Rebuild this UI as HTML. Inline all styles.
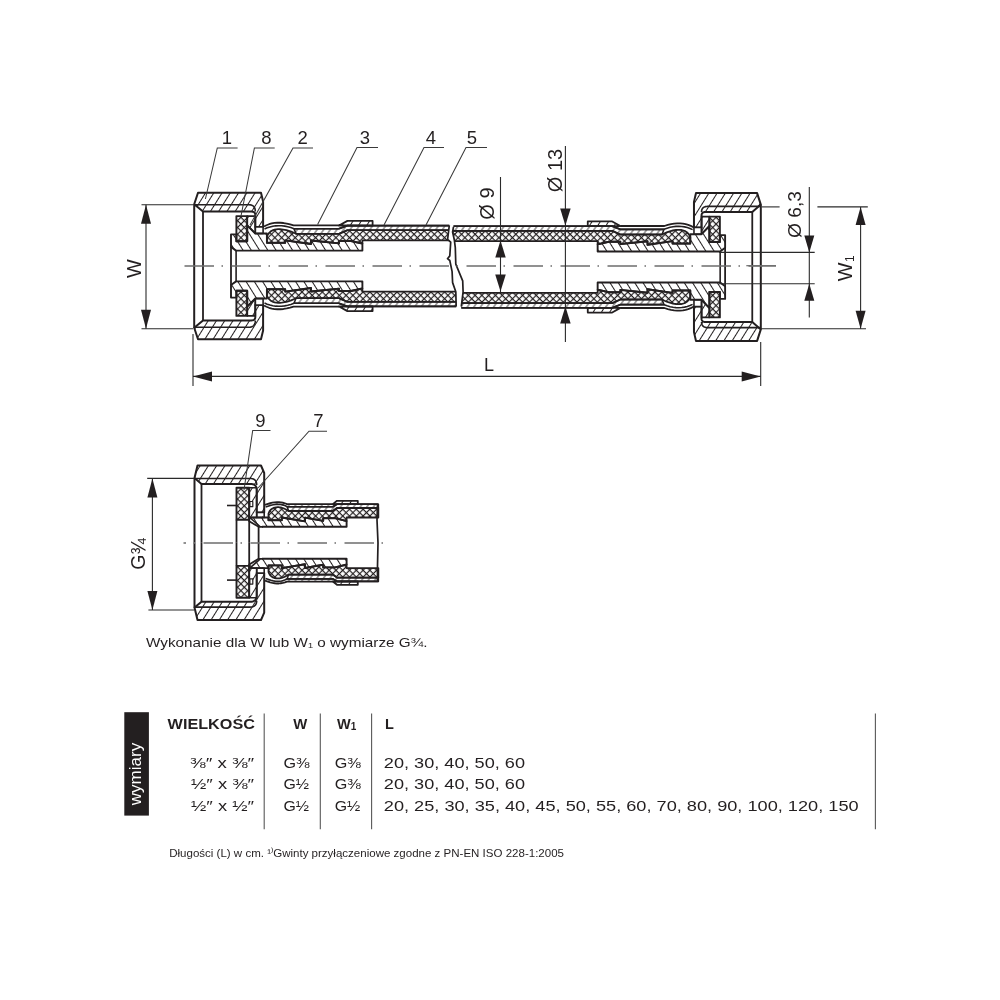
<!DOCTYPE html>
<html><head><meta charset="utf-8"><style>
html,body{margin:0;padding:0;background:#fff;width:1000px;height:1000px;overflow:hidden}
svg{position:absolute;left:0;top:0;font-family:"Liberation Sans",sans-serif;will-change:transform}
</style></head><body>
<svg width="1000" height="1000" viewBox="0 0 1000 1000">
<defs>
<pattern id="hA" patternUnits="userSpaceOnUse" width="7" height="20" patternTransform="rotate(32)"><line x1="3.5" y1="-1" x2="3.5" y2="21" stroke="#231f20" stroke-width="1.05"/></pattern>
<pattern id="hB" patternUnits="userSpaceOnUse" width="7" height="20" patternTransform="rotate(-32)"><line x1="3.5" y1="-1" x2="3.5" y2="21" stroke="#231f20" stroke-width="1.05"/></pattern>
<pattern id="hD" patternUnits="userSpaceOnUse" width="5.4" height="20" patternTransform="rotate(35)"><line x1="2.7" y1="-1" x2="2.7" y2="21" stroke="#231f20" stroke-width="0.85"/></pattern>
<pattern id="hX" patternUnits="userSpaceOnUse" width="4.8" height="4.8" patternTransform="rotate(45)"><path d="M0 2.4H4.8 M2.4 0V4.8" stroke="#231f20" stroke-width="1.2" fill="none"/></pattern>
</defs>
<clipPath id="clL"><path d="M100 200 L449.3 200 L449.3 225.5 L447.6 239.3 L450.7 242.1 L449.8 255.9 L447.5 258.7 L449.8 260.5 L452.1 271.6 L452.6 282.6 L455.8 291.8 L456.2 306.6 L456.2 330 L100 330Z"/></clipPath>
<clipPath id="clR"><path d="M900 200 L453.5 200 L453.5 226.9 L452.6 232 L454.4 240.3 L455.3 247.6 L455.8 264.2 L462.7 280.8 L463.1 291.8 L461.3 306.6 L461.3 330 L900 330Z"/></clipPath>
<path d="M198 192.8 L261 192.8 L263.1 201.5 L263.1 226.9 L255.3 226.9 L255.3 215 L255.26 214.35 L255.15 213.78 L254.96 213.27 L254.69 212.82 L254.35 212.45 L253.93 212.14 L253.44 211.91 L252.87 211.74 L252.22 211.63 L251.5 211.6 L203 211.6 L194.2 204.2Z" fill="url(#hA)" stroke="#231f20" stroke-width="2" stroke-linejoin="round"/>
<path d="M194.2 204.8 L249 204.8 L250.2 204.87 L251.27 205.07 L252.21 205.4 L253.03 205.87 L253.73 206.48 L254.29 207.21 L254.73 208.08 L255.05 209.09 L255.24 210.23 L255.3 211.5" fill="none" stroke="#231f20" stroke-width="1.6" stroke-linejoin="round"/>
<path d="M255.3 226.9 L263.1 226.9 L263.1 233.5 L255.3 233.5Z" fill="white" stroke="#231f20" stroke-width="1.6" stroke-linejoin="round"/>
<path d="M247.2 216.1 L255.3 216.1 L255.3 233.3 L247.2 225.4Z" fill="url(#hA)" stroke="#231f20" stroke-width="1.6" stroke-linejoin="round"/>
<path d="M236.4 216.1 L247.2 216.1 L247.2 241.3 L236.4 241.3Z" fill="url(#hX)" stroke="#231f20" stroke-width="1.9" stroke-linejoin="round"/>
<path d="M262 250.6 L236.1 250.6 L231 247 L231 234.4 L236.4 234.4 L236.4 241.3 L247.2 241.3 L247.2 225.4 L255.3 233.5 L262 233.5Z" fill="url(#hB)" stroke="none"/>
<path d="M262 250.6 L236.1 250.6 L231 247 L231 234.4 L236.4 234.4 L236.4 241.3 L247.2 241.3 L247.2 225.4 L255.3 233.5 L262 233.5" fill="none" stroke="#231f20" stroke-width="1.9" stroke-linejoin="round"/>
<path d="M231 247 L231 266" fill="none" stroke="#231f20" stroke-width="1.8" stroke-linejoin="round"/>
<path d="M236.1 250.6 L236.1 266" fill="none" stroke="#231f20" stroke-width="1.6" stroke-linejoin="round"/>
<path d="M194.2 204.2 L194.2 266" fill="none" stroke="#231f20" stroke-width="2" stroke-linejoin="round"/>
<path d="M203 211.6 L203 266" fill="none" stroke="#231f20" stroke-width="1.8" stroke-linejoin="round"/>
<path d="M198 339.2 L261 339.2 L263.1 330.5 L263.1 305.1 L255.3 305.1 L255.3 317 L255.26 317.65 L255.15 318.22 L254.96 318.73 L254.69 319.18 L254.35 319.55 L253.93 319.86 L253.44 320.09 L252.87 320.26 L252.22 320.37 L251.5 320.4 L203 320.4 L194.2 327.8Z" fill="url(#hA)" stroke="#231f20" stroke-width="2" stroke-linejoin="round"/>
<path d="M194.2 327.2 L249 327.2 L250.2 327.13 L251.27 326.93 L252.21 326.6 L253.03 326.13 L253.73 325.52 L254.29 324.79 L254.73 323.92 L255.05 322.91 L255.24 321.77 L255.3 320.5" fill="none" stroke="#231f20" stroke-width="1.6" stroke-linejoin="round"/>
<path d="M255.3 305.1 L263.1 305.1 L263.1 298.5 L255.3 298.5Z" fill="white" stroke="#231f20" stroke-width="1.6" stroke-linejoin="round"/>
<path d="M247.2 315.9 L255.3 315.9 L255.3 298.7 L247.2 306.6Z" fill="url(#hA)" stroke="#231f20" stroke-width="1.6" stroke-linejoin="round"/>
<path d="M236.4 315.9 L247.2 315.9 L247.2 290.7 L236.4 290.7Z" fill="url(#hX)" stroke="#231f20" stroke-width="1.9" stroke-linejoin="round"/>
<path d="M262 281.4 L236.1 281.4 L231 285 L231 297.6 L236.4 297.6 L236.4 290.7 L247.2 290.7 L247.2 306.6 L255.3 298.5 L262 298.5Z" fill="url(#hB)" stroke="none"/>
<path d="M262 281.4 L236.1 281.4 L231 285 L231 297.6 L236.4 297.6 L236.4 290.7 L247.2 290.7 L247.2 306.6 L255.3 298.5 L262 298.5" fill="none" stroke="#231f20" stroke-width="1.9" stroke-linejoin="round"/>
<path d="M231 285 L231 266" fill="none" stroke="#231f20" stroke-width="1.8" stroke-linejoin="round"/>
<path d="M236.1 281.4 L236.1 266" fill="none" stroke="#231f20" stroke-width="1.6" stroke-linejoin="round"/>
<path d="M194.2 327.8 L194.2 266" fill="none" stroke="#231f20" stroke-width="2" stroke-linejoin="round"/>
<path d="M203 320.4 L203 266" fill="none" stroke="#231f20" stroke-width="1.8" stroke-linejoin="round"/>
<g clip-path="url(#clL)">
<path d="M262 233.5 L266.9 233.5 L266.9 242.8 L285.2 242.8 L285.2 240.4 L311 244 L311 240.5 L339 243.4 L339 241 L351 241 L362.4 243.6 L362.4 250.6 L262 250.6Z" fill="url(#hB)" stroke="none"/>
<path d="M262 233.5 L266.9 233.5 L266.9 242.8 L285.2 242.8 L285.2 240.4 L311 244 L311 240.5 L339 243.4 L339 241 L351 241 L362.4 243.6 L362.4 250.6 L262 250.6" fill="none" stroke="#231f20" stroke-width="1.9" stroke-linejoin="round"/>
<path d="M266.9 242.8 L266.9 236.5 L267.59 235.02 L268.42 233.71 L269.38 232.57 L270.48 231.59 L271.73 230.77 L273.1 230.13 L274.62 229.65 L276.28 229.33 L278.07 229.18 L280 229.2 L281.6 229.35 L283.2 229.58 L284.8 229.87 L286.4 230.22 L288 230.65 L289.6 231.14 L291.2 231.71 L292.8 232.34 L294.4 233.03 L296 233.8 L339 233.8 L347.4 230.2 L470 230.2 L470 240.4 L362.4 240.4 L362.4 243.6 L351 241 L339 241 L339 243.4 L311 240.5 L311 244 L285.2 240.4 L285.2 242.8Z" fill="url(#hX)" stroke="#231f20" stroke-width="1.8" stroke-linejoin="round"/>
<path d="M296 233.8 L339 233.8 L347.4 230.2 L470 230.2 L470 225.6 L347.4 225.6 L339 228.7 L294 228.7Z" fill="url(#hD)" stroke="#231f20" stroke-width="1.6" stroke-linejoin="round"/>
<path d="M264 226.5 L266.46 225.23 L269.02 224.22 L271.7 223.46 L274.5 222.96 L277.4 222.72 L280.42 222.74 L283.54 223.02 L286.78 223.56 L290.14 224.35 L293.6 225.4 L339 225.4" fill="none" stroke="#231f20" stroke-width="1.8" stroke-linejoin="round"/>
<path d="M264.5 229 L267.23 227.83 L270 226.91 L272.82 226.24 L275.7 225.83 L278.62 225.68 L281.6 225.77 L284.62 226.12 L287.7 226.73 L290.82 227.59 L294 228.7 L339 228.7" fill="none" stroke="#231f20" stroke-width="1.6" stroke-linejoin="round"/>
<path d="M339 225.5 L347.4 220.9 L372.6 220.9 L372.6 225.6Z" fill="url(#hA)" stroke="#231f20" stroke-width="1.8" stroke-linejoin="round"/>
<path d="M339 228.7 L347.4 225.6 L470 225.6" fill="none" stroke="#231f20" stroke-width="1.8" stroke-linejoin="round"/>
<path d="M262 298.5 L266.9 298.5 L266.9 289.2 L285.2 289.2 L285.2 291.6 L311 288 L311 291.5 L339 288.6 L339 291 L351 291 L362.4 288.4 L362.4 281.4 L262 281.4Z" fill="url(#hB)" stroke="none"/>
<path d="M262 298.5 L266.9 298.5 L266.9 289.2 L285.2 289.2 L285.2 291.6 L311 288 L311 291.5 L339 288.6 L339 291 L351 291 L362.4 288.4 L362.4 281.4 L262 281.4" fill="none" stroke="#231f20" stroke-width="1.9" stroke-linejoin="round"/>
<path d="M266.9 289.2 L266.9 295.5 L267.59 296.98 L268.42 298.29 L269.38 299.43 L270.48 300.41 L271.73 301.23 L273.1 301.87 L274.62 302.35 L276.28 302.67 L278.07 302.82 L280 302.8 L281.6 302.65 L283.2 302.42 L284.8 302.13 L286.4 301.78 L288 301.35 L289.6 300.86 L291.2 300.29 L292.8 299.66 L294.4 298.97 L296 298.2 L339 298.2 L347.4 301.8 L470 301.8 L470 291.6 L362.4 291.6 L362.4 288.4 L351 291 L339 291 L339 288.6 L311 291.5 L311 288 L285.2 291.6 L285.2 289.2Z" fill="url(#hX)" stroke="#231f20" stroke-width="1.8" stroke-linejoin="round"/>
<path d="M296 298.2 L339 298.2 L347.4 301.8 L470 301.8 L470 306.4 L347.4 306.4 L339 303.3 L294 303.3Z" fill="url(#hD)" stroke="#231f20" stroke-width="1.6" stroke-linejoin="round"/>
<path d="M264 305.5 L266.46 306.77 L269.02 307.78 L271.7 308.54 L274.5 309.04 L277.4 309.27 L280.42 309.26 L283.54 308.98 L286.78 308.44 L290.14 307.65 L293.6 306.6 L339 306.6" fill="none" stroke="#231f20" stroke-width="1.8" stroke-linejoin="round"/>
<path d="M264.5 303 L267.23 304.17 L270 305.09 L272.82 305.76 L275.7 306.17 L278.62 306.32 L281.6 306.23 L284.62 305.88 L287.7 305.27 L290.82 304.41 L294 303.3 L339 303.3" fill="none" stroke="#231f20" stroke-width="1.6" stroke-linejoin="round"/>
<path d="M339 306.5 L347.4 311.1 L372.6 311.1 L372.6 306.4Z" fill="url(#hA)" stroke="#231f20" stroke-width="1.8" stroke-linejoin="round"/>
<path d="M339 303.3 L347.4 306.4 L470 306.4" fill="none" stroke="#231f20" stroke-width="1.8" stroke-linejoin="round"/>
</g>
<path d="M757.12 193.07 L696.01 193.07 L693.97 201.86 L693.97 227.51 L701.54 227.51 L701.54 215.49 L701.58 214.84 L701.69 214.25 L701.87 213.74 L702.13 213.29 L702.46 212.91 L702.87 212.61 L703.35 212.37 L703.9 212.19 L704.52 212.09 L705.23 212.06 L752.27 212.06 L760.81 204.58Z" fill="url(#hA)" stroke="#231f20" stroke-width="2" stroke-linejoin="round"/>
<path d="M760.81 206.4 L707.65 206.4 L706.49 206.46 L705.45 206.62 L704.53 206.9 L703.74 207.29 L703.07 207.79 L702.52 208.4 L702.09 209.12 L701.78 209.96 L701.6 210.9 L701.54 211.95" fill="none" stroke="#231f20" stroke-width="1.6" stroke-linejoin="round"/>
<path d="M701.54 227.51 L693.97 227.51 L693.97 234.18 L701.54 234.18Z" fill="white" stroke="#231f20" stroke-width="1.6" stroke-linejoin="round"/>
<path d="M709.4 216.6 L701.54 216.6 L701.54 233.97 L709.4 225.99Z" fill="url(#hA)" stroke="#231f20" stroke-width="1.6" stroke-linejoin="round"/>
<path d="M719.87 216.6 L709.4 216.6 L709.4 242.05 L719.87 242.05Z" fill="url(#hX)" stroke="#231f20" stroke-width="1.9" stroke-linejoin="round"/>
<path d="M695.04 251.45 L720.16 251.45 L725.11 247.81 L725.11 235.08 L719.87 235.08 L719.87 242.05 L709.4 242.05 L709.4 225.99 L701.54 234.18 L695.04 234.18Z" fill="url(#hB)" stroke="none"/>
<path d="M695.04 251.45 L720.16 251.45 L725.11 247.81 L725.11 235.08 L719.87 235.08 L719.87 242.05 L709.4 242.05 L709.4 225.99 L701.54 234.18 L695.04 234.18" fill="none" stroke="#231f20" stroke-width="1.9" stroke-linejoin="round"/>
<path d="M725.11 247.81 L725.11 267" fill="none" stroke="#231f20" stroke-width="1.8" stroke-linejoin="round"/>
<path d="M720.16 251.45 L720.16 267" fill="none" stroke="#231f20" stroke-width="1.6" stroke-linejoin="round"/>
<path d="M760.81 204.58 L760.81 267" fill="none" stroke="#231f20" stroke-width="2" stroke-linejoin="round"/>
<path d="M752.27 212.06 L752.27 267" fill="none" stroke="#231f20" stroke-width="1.8" stroke-linejoin="round"/>
<path d="M757.12 340.93 L696.01 340.93 L693.97 332.14 L693.97 306.49 L701.54 306.49 L701.54 318.51 L701.58 319.16 L701.69 319.75 L701.87 320.26 L702.13 320.71 L702.46 321.09 L702.87 321.39 L703.35 321.63 L703.9 321.81 L704.52 321.91 L705.23 321.94 L752.27 321.94 L760.81 329.42Z" fill="url(#hA)" stroke="#231f20" stroke-width="2" stroke-linejoin="round"/>
<path d="M760.81 327.6 L707.65 327.6 L706.49 327.54 L705.45 327.38 L704.53 327.1 L703.74 326.71 L703.07 326.21 L702.52 325.6 L702.09 324.88 L701.78 324.04 L701.6 323.1 L701.54 322.05" fill="none" stroke="#231f20" stroke-width="1.6" stroke-linejoin="round"/>
<path d="M701.54 306.49 L693.97 306.49 L693.97 299.82 L701.54 299.82Z" fill="white" stroke="#231f20" stroke-width="1.6" stroke-linejoin="round"/>
<path d="M709.4 317.4 L701.54 317.4 L701.54 300.03 L709.4 308.01Z" fill="url(#hA)" stroke="#231f20" stroke-width="1.6" stroke-linejoin="round"/>
<path d="M719.87 317.4 L709.4 317.4 L709.4 291.95 L719.87 291.95Z" fill="url(#hX)" stroke="#231f20" stroke-width="1.9" stroke-linejoin="round"/>
<path d="M695.04 282.55 L720.16 282.55 L725.11 286.19 L725.11 298.92 L719.87 298.92 L719.87 291.95 L709.4 291.95 L709.4 308.01 L701.54 299.82 L695.04 299.82Z" fill="url(#hB)" stroke="none"/>
<path d="M695.04 282.55 L720.16 282.55 L725.11 286.19 L725.11 298.92 L719.87 298.92 L719.87 291.95 L709.4 291.95 L709.4 308.01 L701.54 299.82 L695.04 299.82" fill="none" stroke="#231f20" stroke-width="1.9" stroke-linejoin="round"/>
<path d="M725.11 286.19 L725.11 267" fill="none" stroke="#231f20" stroke-width="1.8" stroke-linejoin="round"/>
<path d="M720.16 282.55 L720.16 267" fill="none" stroke="#231f20" stroke-width="1.6" stroke-linejoin="round"/>
<path d="M760.81 329.42 L760.81 267" fill="none" stroke="#231f20" stroke-width="2" stroke-linejoin="round"/>
<path d="M752.27 321.94 L752.27 267" fill="none" stroke="#231f20" stroke-width="1.8" stroke-linejoin="round"/>
<g clip-path="url(#clR)">
<path d="M695.04 234.18 L690.29 234.18 L690.29 243.57 L672.54 243.57 L672.54 241.14 L647.51 244.78 L647.51 241.25 L620.35 244.17 L620.35 241.75 L608.71 241.75 L597.65 244.38 L597.65 251.45 L695.04 251.45Z" fill="url(#hB)" stroke="none"/>
<path d="M695.04 234.18 L690.29 234.18 L690.29 243.57 L672.54 243.57 L672.54 241.14 L647.51 244.78 L647.51 241.25 L620.35 244.17 L620.35 241.75 L608.71 241.75 L597.65 244.38 L597.65 251.45 L695.04 251.45" fill="none" stroke="#231f20" stroke-width="1.9" stroke-linejoin="round"/>
<path d="M690.29 243.57 L690.29 237.2 L689.62 235.71 L688.82 234.39 L687.88 233.23 L686.81 232.24 L685.61 231.42 L684.27 230.77 L682.8 230.28 L681.19 229.97 L679.45 229.81 L677.58 229.83 L676.03 229.99 L674.48 230.21 L672.92 230.5 L671.37 230.87 L669.82 231.3 L668.27 231.8 L666.72 232.36 L665.16 233 L663.61 233.7 L662.06 234.48 L620.35 234.48 L612.2 230.84 L440 230.84 L440 241.14 L597.65 241.14 L597.65 244.38 L608.71 241.75 L620.35 241.75 L620.35 244.17 L647.51 241.25 L647.51 244.78 L672.54 241.14 L672.54 243.57Z" fill="url(#hX)" stroke="#231f20" stroke-width="1.8" stroke-linejoin="round"/>
<path d="M662.06 234.48 L620.35 234.48 L612.2 230.84 L440 230.84 L440 226.2 L612.2 226.2 L620.35 229.33 L664 229.33Z" fill="url(#hD)" stroke="#231f20" stroke-width="1.6" stroke-linejoin="round"/>
<path d="M693.1 227.1 L690.72 225.82 L688.23 224.8 L685.63 224.04 L682.92 223.53 L680.1 223.29 L677.18 223.31 L674.14 223.59 L671 224.13 L667.75 224.93 L664.39 225.99 L620.35 225.99" fill="none" stroke="#231f20" stroke-width="1.8" stroke-linejoin="round"/>
<path d="M692.62 229.63 L689.97 228.45 L687.28 227.52 L684.54 226.85 L681.75 226.43 L678.91 226.27 L676.03 226.37 L673.09 226.72 L670.11 227.34 L667.08 228.2 L664 229.33 L620.35 229.33" fill="none" stroke="#231f20" stroke-width="1.6" stroke-linejoin="round"/>
<path d="M620.35 226.09 L612.2 221.45 L587.76 221.45 L587.76 226.2Z" fill="url(#hA)" stroke="#231f20" stroke-width="1.8" stroke-linejoin="round"/>
<path d="M620.35 229.33 L612.2 226.2 L440 226.2" fill="none" stroke="#231f20" stroke-width="1.8" stroke-linejoin="round"/>
<path d="M695.04 299.82 L690.29 299.82 L690.29 290.43 L672.54 290.43 L672.54 292.86 L647.51 289.22 L647.51 292.75 L620.35 289.83 L620.35 292.25 L608.71 292.25 L597.65 289.62 L597.65 282.55 L695.04 282.55Z" fill="url(#hB)" stroke="none"/>
<path d="M695.04 299.82 L690.29 299.82 L690.29 290.43 L672.54 290.43 L672.54 292.86 L647.51 289.22 L647.51 292.75 L620.35 289.83 L620.35 292.25 L608.71 292.25 L597.65 289.62 L597.65 282.55 L695.04 282.55" fill="none" stroke="#231f20" stroke-width="1.9" stroke-linejoin="round"/>
<path d="M690.29 290.43 L690.29 296.8 L689.62 298.29 L688.82 299.61 L687.88 300.77 L686.81 301.76 L685.61 302.58 L684.27 303.23 L682.8 303.72 L681.19 304.03 L679.45 304.19 L677.58 304.17 L676.03 304.01 L674.48 303.79 L672.92 303.5 L671.37 303.13 L669.82 302.7 L668.27 302.2 L666.72 301.64 L665.16 301 L663.61 300.3 L662.06 299.52 L620.35 299.52 L612.2 303.16 L440 303.16 L440 292.86 L597.65 292.86 L597.65 289.62 L608.71 292.25 L620.35 292.25 L620.35 289.83 L647.51 292.75 L647.51 289.22 L672.54 292.86 L672.54 290.43Z" fill="url(#hX)" stroke="#231f20" stroke-width="1.8" stroke-linejoin="round"/>
<path d="M662.06 299.52 L620.35 299.52 L612.2 303.16 L440 303.16 L440 307.8 L612.2 307.8 L620.35 304.67 L664 304.67Z" fill="url(#hD)" stroke="#231f20" stroke-width="1.6" stroke-linejoin="round"/>
<path d="M693.1 306.89 L690.72 308.18 L688.23 309.2 L685.63 309.96 L682.92 310.47 L680.1 310.71 L677.18 310.69 L674.14 310.41 L671 309.87 L667.75 309.07 L664.39 308.01 L620.35 308.01" fill="none" stroke="#231f20" stroke-width="1.8" stroke-linejoin="round"/>
<path d="M692.62 304.37 L689.97 305.55 L687.28 306.48 L684.54 307.15 L681.75 307.57 L678.91 307.73 L676.03 307.63 L673.09 307.28 L670.11 306.66 L667.08 305.8 L664 304.67 L620.35 304.67" fill="none" stroke="#231f20" stroke-width="1.6" stroke-linejoin="round"/>
<path d="M620.35 307.9 L612.2 312.55 L587.76 312.55 L587.76 307.8Z" fill="url(#hA)" stroke="#231f20" stroke-width="1.8" stroke-linejoin="round"/>
<path d="M620.35 304.67 L612.2 307.8 L440 307.8" fill="none" stroke="#231f20" stroke-width="1.8" stroke-linejoin="round"/>
</g>
<path d="M449.3 225.5 L447.6 239.3 L450.7 242.1 L449.8 255.9 L447.5 258.7 L449.8 260.5 L452.1 271.6 L452.6 282.6 L455.8 291.8 L456.2 306.6" fill="none" stroke="#231f20" stroke-width="1.7" stroke-linejoin="round"/>
<path d="M453.5 226.9 L452.6 232 L454.4 240.3 L455.3 247.6 L455.8 264.2 L462.7 280.8 L463.1 291.8 L461.3 306.6" fill="none" stroke="#231f20" stroke-width="1.7" stroke-linejoin="round"/>
<line x1="184.5" y1="266" x2="776" y2="266" stroke="#6d6d6d" stroke-width="1.3" stroke-dasharray="29.5 7.5 1.5 8.5"/>
<line x1="141.5" y1="204.7" x2="193" y2="204.7" stroke="#2a2a2a" stroke-width="1.1"/>
<line x1="141.5" y1="328.7" x2="193" y2="328.7" stroke="#2a2a2a" stroke-width="1.1"/>
<line x1="146" y1="204.7" x2="146" y2="328.7" stroke="#2a2a2a" stroke-width="1.1"/>
<path d="M146 204.7 L151 223.7 L141 223.7Z" fill="#231f20"/>
<path d="M146 328.7 L141 309.7 L151 309.7Z" fill="#231f20"/>
<line x1="193" y1="334" x2="193" y2="386" stroke="#2a2a2a" stroke-width="1.1"/>
<line x1="760.7" y1="342" x2="760.7" y2="386" stroke="#2a2a2a" stroke-width="1.1"/>
<line x1="193" y1="376.4" x2="760.7" y2="376.4" stroke="#2a2a2a" stroke-width="1.1"/>
<path d="M193 376.4 L212 371.4 L212 381.4Z" fill="#231f20"/>
<path d="M760.7 376.4 L741.7 381.4 L741.7 371.4Z" fill="#231f20"/>
<line x1="500.5" y1="177" x2="500.5" y2="292" stroke="#2a2a2a" stroke-width="1.1"/>
<path d="M500.5 240.6 L505.75 257.6 L495.25 257.6Z" fill="#231f20"/>
<path d="M500.5 291.6 L495.25 274.6 L505.75 274.6Z" fill="#231f20"/>
<line x1="565.4" y1="146" x2="565.4" y2="342" stroke="#2a2a2a" stroke-width="1.1"/>
<path d="M565.4 225.5 L560.15 208.5 L570.65 208.5Z" fill="#231f20"/>
<path d="M565.4 306.5 L570.65 323.5 L560.15 323.5Z" fill="#231f20"/>
<line x1="719" y1="252.4" x2="814.7" y2="252.4" stroke="#2a2a2a" stroke-width="1.1"/>
<line x1="719" y1="283.7" x2="814.7" y2="283.7" stroke="#2a2a2a" stroke-width="1.1"/>
<line x1="809.3" y1="187" x2="809.3" y2="317.6" stroke="#2a2a2a" stroke-width="1.1"/>
<path d="M809.3 252.4 L804.3 235.4 L814.3 235.4Z" fill="#231f20"/>
<path d="M809.3 283.7 L814.3 300.7 L804.3 300.7Z" fill="#231f20"/>
<line x1="761.6" y1="206.9" x2="779.6" y2="206.9" stroke="#2a2a2a" stroke-width="1.1"/>
<line x1="817.4" y1="206.9" x2="867.8" y2="206.9" stroke="#2a2a2a" stroke-width="1.1"/>
<line x1="761" y1="328.7" x2="866" y2="328.7" stroke="#2a2a2a" stroke-width="1.1"/>
<line x1="860.6" y1="206.9" x2="860.6" y2="328.7" stroke="#2a2a2a" stroke-width="1.1"/>
<path d="M860.6 206.9 L865.6 224.9 L855.6 224.9Z" fill="#231f20"/>
<path d="M860.6 328.7 L855.6 310.7 L865.6 310.7Z" fill="#231f20"/>
<line x1="746.3" y1="265.7" x2="776" y2="265.7" stroke="#6d6d6d" stroke-width="1.2"/>
<text x="227" y="143.6" font-size="18.5" text-anchor="middle" fill="#231f20">1</text>
<path d="M237.6 148 L217.3 148 L205.4 199" fill="none" stroke="#3a3a3a" stroke-width="1.05"/>
<text x="266.3" y="143.6" font-size="18.5" text-anchor="middle" fill="#231f20">8</text>
<path d="M274.7 148 L254.4 148 L241 216" fill="none" stroke="#3a3a3a" stroke-width="1.05"/>
<text x="302.7" y="143.6" font-size="18.5" text-anchor="middle" fill="#231f20">2</text>
<path d="M313 148 L293 148 L250 225" fill="none" stroke="#3a3a3a" stroke-width="1.05"/>
<text x="365" y="143.6" font-size="18.5" text-anchor="middle" fill="#231f20">3</text>
<path d="M378 147.4 L357 147.4 L317.6 224.6" fill="none" stroke="#3a3a3a" stroke-width="1.05"/>
<text x="431" y="143.6" font-size="18.5" text-anchor="middle" fill="#231f20">4</text>
<path d="M444 147.4 L424 147.4 L384 225" fill="none" stroke="#3a3a3a" stroke-width="1.05"/>
<text x="472" y="143.6" font-size="18.5" text-anchor="middle" fill="#231f20">5</text>
<path d="M487 147.4 L466 147.4 L426 225" fill="none" stroke="#3a3a3a" stroke-width="1.05"/>
<text transform="translate(134 268.5) rotate(-90)" x="0" y="0" font-size="20" text-anchor="middle" dominant-baseline="central" fill="#231f20">W</text>
<text transform="translate(487 203.5) rotate(-90)" x="0" y="0" font-size="20" text-anchor="middle" dominant-baseline="central" fill="#231f20">Ø 9</text>
<text transform="translate(554.5 170.5) rotate(-90)" x="0" y="0" font-size="20" text-anchor="middle" dominant-baseline="central" fill="#231f20">Ø 13</text>
<text transform="translate(794 214.5) rotate(-90)" x="0" y="0" font-size="19.2" text-anchor="middle" dominant-baseline="central" fill="#231f20">Ø 6,3</text>
<text transform="translate(845 268.3) rotate(-90)" x="0" y="0" font-size="20" text-anchor="middle" dominant-baseline="central" fill="#231f20">W<tspan font-size="12" dy="5" dx="0.5">1</tspan></text>
<text x="489" y="371" font-size="18" text-anchor="middle" fill="#231f20">L</text>
<path d="M197.5 465.5 L261 465.5 L264.2 473 L264.2 512.5 L256.7 512.5 L256.7 490 L256.64 488.84 L256.45 487.8 L256.14 486.89 L255.71 486.1 L255.15 485.42 L254.47 484.88 L253.66 484.45 L252.73 484.14 L251.68 483.96 L250.5 483.9 L201.5 483.9 L194.5 478Z" fill="url(#hA)" stroke="#231f20" stroke-width="2" stroke-linejoin="round"/>
<path d="M194.5 478.5 L250 478.5 L251.27 478.57 L252.41 478.76 L253.42 479.08 L254.29 479.54 L255.02 480.12 L255.63 480.84 L256.1 481.69 L256.43 482.66 L256.63 483.76 L256.7 485" fill="none" stroke="#231f20" stroke-width="1.6" stroke-linejoin="round"/>
<path d="M256.7 512.5 L264.2 512.5 L264.2 517.5 L256.7 517.5Z" fill="white" stroke="#231f20" stroke-width="1.6" stroke-linejoin="round"/>
<path d="M249.2 487.8 L256.7 487.8 L256.7 517.5 L249.2 517.5Z" fill="url(#hA)" stroke="#231f20" stroke-width="1.6" stroke-linejoin="round"/>
<path d="M249.8 501.5 L252.8 501.5 L252.8 506.7 L249.8 506.7Z" fill="white" stroke="#231f20" stroke-width="1.2" stroke-linejoin="round"/>
<path d="M236.5 487.8 L249.2 487.8 L249.2 519.7 L236.5 519.7Z" fill="url(#hX)" stroke="#231f20" stroke-width="1.9" stroke-linejoin="round"/>
<path d="M263 526.8 L258.6 526.8 L249.2 521.2 L249.2 517.5 L263 517.5Z" fill="url(#hB)" stroke="none"/>
<path d="M263 526.8 L258.6 526.8 L249.2 521.2 L249.2 517.5 L263 517.5" fill="none" stroke="#231f20" stroke-width="1.8" stroke-linejoin="round"/>
<path d="M249.2 517 L260 526.5" fill="none" stroke="#231f20" stroke-width="1.6" stroke-linejoin="round"/>
<path d="M194.5 478 L194.5 542.8" fill="none" stroke="#231f20" stroke-width="2" stroke-linejoin="round"/>
<path d="M201.5 483.9 L201.5 542.8" fill="none" stroke="#231f20" stroke-width="1.8" stroke-linejoin="round"/>
<path d="M236.5 519.7 L236.5 542.8" fill="none" stroke="#231f20" stroke-width="1.8" stroke-linejoin="round"/>
<path d="M249.2 519.7 L249.2 542.8" fill="none" stroke="#231f20" stroke-width="1.8" stroke-linejoin="round"/>
<path d="M258.6 526.8 L258.6 542.8" fill="none" stroke="#231f20" stroke-width="1.8" stroke-linejoin="round"/>
<path d="M227 505.5 L236.5 505.5" fill="none" stroke="#231f20" stroke-width="1.6" stroke-linejoin="round"/>
<path d="M197.5 620.1 L261 620.1 L264.2 612.6 L264.2 573.1 L256.7 573.1 L256.7 595.6 L256.64 596.76 L256.45 597.8 L256.14 598.71 L255.71 599.5 L255.15 600.17 L254.47 600.72 L253.66 601.15 L252.73 601.46 L251.68 601.64 L250.5 601.7 L201.5 601.7 L194.5 607.6Z" fill="url(#hA)" stroke="#231f20" stroke-width="2" stroke-linejoin="round"/>
<path d="M194.5 607.1 L250 607.1 L251.27 607.03 L252.41 606.84 L253.42 606.51 L254.29 606.06 L255.02 605.47 L255.63 604.76 L256.1 603.91 L256.43 602.94 L256.63 601.83 L256.7 600.6" fill="none" stroke="#231f20" stroke-width="1.6" stroke-linejoin="round"/>
<path d="M256.7 573.1 L264.2 573.1 L264.2 568.1 L256.7 568.1Z" fill="white" stroke="#231f20" stroke-width="1.6" stroke-linejoin="round"/>
<path d="M249.2 597.8 L256.7 597.8 L256.7 568.1 L249.2 568.1Z" fill="url(#hA)" stroke="#231f20" stroke-width="1.6" stroke-linejoin="round"/>
<path d="M249.8 584.1 L252.8 584.1 L252.8 578.9 L249.8 578.9Z" fill="white" stroke="#231f20" stroke-width="1.2" stroke-linejoin="round"/>
<path d="M236.5 597.8 L249.2 597.8 L249.2 565.9 L236.5 565.9Z" fill="url(#hX)" stroke="#231f20" stroke-width="1.9" stroke-linejoin="round"/>
<path d="M263 558.8 L258.6 558.8 L249.2 564.4 L249.2 568.1 L263 568.1Z" fill="url(#hB)" stroke="none"/>
<path d="M263 558.8 L258.6 558.8 L249.2 564.4 L249.2 568.1 L263 568.1" fill="none" stroke="#231f20" stroke-width="1.8" stroke-linejoin="round"/>
<path d="M249.2 568.6 L260 559.1" fill="none" stroke="#231f20" stroke-width="1.6" stroke-linejoin="round"/>
<path d="M194.5 607.6 L194.5 542.8" fill="none" stroke="#231f20" stroke-width="2" stroke-linejoin="round"/>
<path d="M201.5 601.7 L201.5 542.8" fill="none" stroke="#231f20" stroke-width="1.8" stroke-linejoin="round"/>
<path d="M236.5 565.9 L236.5 542.8" fill="none" stroke="#231f20" stroke-width="1.8" stroke-linejoin="round"/>
<path d="M249.2 565.9 L249.2 542.8" fill="none" stroke="#231f20" stroke-width="1.8" stroke-linejoin="round"/>
<path d="M258.6 558.8 L258.6 542.8" fill="none" stroke="#231f20" stroke-width="1.8" stroke-linejoin="round"/>
<path d="M227 580.1 L236.5 580.1" fill="none" stroke="#231f20" stroke-width="1.6" stroke-linejoin="round"/>
<path d="M262 517.5 L268.5 517.5 L268.5 520.21 L281.8 520.21 L281.8 517.5 L305 521.41 L305 517.61 L323.2 520.89 L323.2 518.18 L335.2 518.18 L346.6 521.08 L346.6 526.8 L262 526.8Z" fill="url(#hB)" stroke="none"/>
<path d="M262 517.5 L268.5 517.5 L268.5 520.21 L281.8 520.21 L281.8 517.5 L305 521.41 L305 517.61 L323.2 520.89 L323.2 518.18 L335.2 518.18 L346.6 521.08 L346.6 526.8 L262 526.8" fill="none" stroke="#231f20" stroke-width="1.9" stroke-linejoin="round"/>
<path d="M268.5 520.21 L268.5 513.66 L269.06 512.2 L269.73 510.93 L270.51 509.97 L271.41 509.16 L272.41 508.49 L273.53 507.95 L274.76 507.55 L276.1 507.29 L277.54 507.16 L278.69 507.18 L279.65 507.3 L280.61 507.49 L281.56 507.73 L282.54 508.03 L283.54 508.38 L284.53 508.79 L285.52 509.26 L286.51 509.78 L287.51 510.36 L288.5 511 L332.8 511 L337 508.01 L378.35 508.01 L378.35 517.5 L346.6 517.5 L346.6 521.08 L335.2 518.18 L323.2 518.18 L323.2 520.89 L305 517.61 L305 521.41 L281.8 517.5 L281.8 520.21Z" fill="url(#hX)" stroke="#231f20" stroke-width="1.8" stroke-linejoin="round"/>
<path d="M288.5 511 L332.8 511 L337 508.01 L378.35 508.01 L378.35 504.18 L337 504.18 L332.8 506.76 L287.26 506.76Z" fill="url(#hD)" stroke="#231f20" stroke-width="1.6" stroke-linejoin="round"/>
<path d="M265.6 507.01 L268.76 506.03 L271.01 505.27 L273.3 504.72 L275.64 504.38 L277.87 504.25 L279.65 504.33 L281.46 504.62 L283.35 505.12 L285.29 505.83 L287.26 506.76 L332.8 506.76 L332.8 504.03 L287.01 504.03 L284.86 503.27 L282.78 502.71 L280.81 502.32 L278.94 502.12 L277.01 502.11 L274.66 502.28 L272.4 502.64 L270.22 503.18 L267.96 503.91 L265 504.93Z" fill="url(#hD)" stroke="none" stroke-width="0" stroke-linejoin="round"/>
<path d="M265 504.93 L267.96 503.91 L270.22 503.18 L272.4 502.64 L274.66 502.28 L277.01 502.11 L278.94 502.12 L280.81 502.32 L282.78 502.71 L284.86 503.27 L287.01 504.03 L332.8 504.03" fill="none" stroke="#231f20" stroke-width="1.8" stroke-linejoin="round"/>
<path d="M265.6 507.01 L268.76 506.03 L271.01 505.27 L273.3 504.72 L275.64 504.38 L277.87 504.25 L279.65 504.33 L281.46 504.62 L283.35 505.12 L285.29 505.83 L287.26 506.76 L332.8 506.76" fill="none" stroke="#231f20" stroke-width="1.6" stroke-linejoin="round"/>
<path d="M332.8 504.1 L337 500.8 L357.8 500.8 L357.8 504.18Z" fill="url(#hA)" stroke="#231f20" stroke-width="1.8" stroke-linejoin="round"/>
<path d="M332.8 506.76 L337 504.18 L378.35 504.18" fill="none" stroke="#231f20" stroke-width="1.8" stroke-linejoin="round"/>
<path d="M262 568.1 L268.5 568.1 L268.5 565.39 L281.8 565.39 L281.8 568.1 L305 564.19 L305 567.99 L323.2 564.71 L323.2 567.42 L335.2 567.42 L346.6 564.52 L346.6 558.8 L262 558.8Z" fill="url(#hB)" stroke="none"/>
<path d="M262 568.1 L268.5 568.1 L268.5 565.39 L281.8 565.39 L281.8 568.1 L305 564.19 L305 567.99 L323.2 564.71 L323.2 567.42 L335.2 567.42 L346.6 564.52 L346.6 558.8 L262 558.8" fill="none" stroke="#231f20" stroke-width="1.9" stroke-linejoin="round"/>
<path d="M268.5 565.39 L268.5 571.94 L269.06 573.4 L269.73 574.67 L270.51 575.63 L271.41 576.44 L272.41 577.11 L273.53 577.65 L274.76 578.05 L276.1 578.31 L277.54 578.44 L278.69 578.42 L279.65 578.3 L280.61 578.11 L281.56 577.87 L282.54 577.57 L283.54 577.22 L284.53 576.81 L285.52 576.34 L286.51 575.82 L287.51 575.24 L288.5 574.6 L332.8 574.6 L337 577.59 L378.35 577.59 L378.35 568.1 L346.6 568.1 L346.6 564.52 L335.2 567.42 L323.2 567.42 L323.2 564.71 L305 567.99 L305 564.19 L281.8 568.1 L281.8 565.39Z" fill="url(#hX)" stroke="#231f20" stroke-width="1.8" stroke-linejoin="round"/>
<path d="M288.5 574.6 L332.8 574.6 L337 577.59 L378.35 577.59 L378.35 581.42 L337 581.42 L332.8 578.84 L287.26 578.84Z" fill="url(#hD)" stroke="#231f20" stroke-width="1.6" stroke-linejoin="round"/>
<path d="M265.6 578.59 L268.76 579.57 L271.01 580.33 L273.3 580.88 L275.64 581.22 L277.87 581.35 L279.65 581.27 L281.46 580.98 L283.35 580.48 L285.29 579.77 L287.26 578.84 L332.8 578.84 L332.8 581.57 L287.01 581.57 L284.86 582.33 L282.78 582.89 L280.81 583.28 L278.94 583.48 L277.01 583.49 L274.66 583.32 L272.4 582.96 L270.22 582.42 L267.96 581.69 L265 580.67Z" fill="url(#hD)" stroke="none" stroke-width="0" stroke-linejoin="round"/>
<path d="M265 580.67 L267.96 581.69 L270.22 582.42 L272.4 582.96 L274.66 583.32 L277.01 583.49 L278.94 583.48 L280.81 583.28 L282.78 582.89 L284.86 582.33 L287.01 581.57 L332.8 581.57" fill="none" stroke="#231f20" stroke-width="1.8" stroke-linejoin="round"/>
<path d="M265.6 578.59 L268.76 579.57 L271.01 580.33 L273.3 580.88 L275.64 581.22 L277.87 581.35 L279.65 581.27 L281.46 580.98 L283.35 580.48 L285.29 579.77 L287.26 578.84 L332.8 578.84" fill="none" stroke="#231f20" stroke-width="1.6" stroke-linejoin="round"/>
<path d="M332.8 581.5 L337 584.8 L357.8 584.8 L357.8 581.42Z" fill="url(#hA)" stroke="#231f20" stroke-width="1.8" stroke-linejoin="round"/>
<path d="M332.8 578.84 L337 581.42 L378.35 581.42" fill="none" stroke="#231f20" stroke-width="1.8" stroke-linejoin="round"/>
<path d="M377.5 504.1 L377 520 L378 543 L377.5 566 L377.5 581.5" fill="none" stroke="#231f20" stroke-width="1.7" stroke-linejoin="round"/>
<line x1="183.5" y1="543" x2="388" y2="543" stroke="#6d6d6d" stroke-width="1.3" stroke-dasharray="29.5 7.5 1.5 8.5" stroke-dashoffset="-20"/>
<line x1="147.2" y1="478.4" x2="194" y2="478.4" stroke="#2a2a2a" stroke-width="1.1"/>
<line x1="148.4" y1="610" x2="194" y2="610" stroke="#2a2a2a" stroke-width="1.1"/>
<line x1="152.4" y1="478.4" x2="152.4" y2="610" stroke="#2a2a2a" stroke-width="1.1"/>
<path d="M152.4 478.4 L157.4 497.4 L147.4 497.4Z" fill="#231f20"/>
<path d="M152.4 610 L147.4 591 L157.4 591Z" fill="#231f20"/>
<text transform="translate(137.5 554) rotate(-90)" x="0" y="0" font-size="19.5" text-anchor="middle" dominant-baseline="central" fill="#231f20">G¾</text>
<text x="260.5" y="426.8" font-size="18.5" text-anchor="middle" fill="#231f20">9</text>
<text x="318.3" y="426.8" font-size="18.5" text-anchor="middle" fill="#231f20">7</text>
<path d="M270.5 430.5 L252.7 430.5 L244 490" fill="none" stroke="#3a3a3a" stroke-width="1.05"/>
<path d="M327 431.2 L309 431.2 L258 488" fill="none" stroke="#3a3a3a" stroke-width="1.05"/>

<rect x="124.3" y="712.2" width="24.6" height="103.4" fill="#231f20"/>
<text transform="translate(140.6 774) rotate(-90)" font-size="17" text-anchor="middle" fill="#fff">wymiary</text>
<g fill="#231f20">
<text x="167.6" y="729.3" font-size="14.5" font-weight="bold" textLength="87.3" lengthAdjust="spacingAndGlyphs">WIELKOŚĆ</text>
<text x="293.3" y="729.3" font-size="14.5" font-weight="bold" textLength="14" lengthAdjust="spacingAndGlyphs">W</text>
<text x="337" y="729.3" font-size="14.5" font-weight="bold">W<tspan font-size="10" dy="1">1</tspan></text>
<text x="385" y="729.3" font-size="14.5" font-weight="bold">L</text>
<text x="190.1" y="767.5" font-size="14.5" textLength="64" lengthAdjust="spacingAndGlyphs">⅜″ x ⅜″</text>
<text x="191" y="789.2" font-size="14.5" textLength="63" lengthAdjust="spacingAndGlyphs">½″ x ⅜″</text>
<text x="191" y="810.7" font-size="14.5" textLength="63" lengthAdjust="spacingAndGlyphs">½″ x ½″</text>
<text x="283.4" y="767.5" font-size="14.5" textLength="26" lengthAdjust="spacingAndGlyphs">G⅜</text>
<text x="283.4" y="789.2" font-size="14.5" textLength="25.6" lengthAdjust="spacingAndGlyphs">G½</text>
<text x="283.4" y="810.7" font-size="14.5" textLength="25.6" lengthAdjust="spacingAndGlyphs">G½</text>
<text x="334.7" y="767.5" font-size="14.5" textLength="26" lengthAdjust="spacingAndGlyphs">G⅜</text>
<text x="334.7" y="789.2" font-size="14.5" textLength="26" lengthAdjust="spacingAndGlyphs">G⅜</text>
<text x="334.7" y="810.7" font-size="14.5" textLength="25.6" lengthAdjust="spacingAndGlyphs">G½</text>
<text x="383.8" y="767.5" font-size="14.5" textLength="141.2" lengthAdjust="spacingAndGlyphs">20, 30, 40, 50, 60</text>
<text x="383.8" y="789.2" font-size="14.5" textLength="141.2" lengthAdjust="spacingAndGlyphs">20, 30, 40, 50, 60</text>
<text x="383.8" y="810.7" font-size="14.5" textLength="474.8" lengthAdjust="spacingAndGlyphs">20, 25, 30, 35, 40, 45, 50, 55, 60, 70, 80, 90, 100, 120, 150</text>
<text x="146.1" y="647.3" font-size="13.5" textLength="281.5" lengthAdjust="spacingAndGlyphs">Wykonanie dla W lub W₁ o wymiarze G¾.</text>
<text x="169.2" y="857" font-size="10.5" textLength="394.8" lengthAdjust="spacingAndGlyphs">Długości (L) w cm. ¹⁾Gwinty przyłączeniowe zgodne z PN-EN ISO 228-1:2005</text>
</g>
<g stroke="#585858" stroke-width="1.1">
<line x1="264.2" y1="713.5" x2="264.2" y2="829.2"/>
<line x1="320.3" y1="713.5" x2="320.3" y2="829.2"/>
<line x1="371.6" y1="713.5" x2="371.6" y2="829.2"/>
<line x1="875.4" y1="713.5" x2="875.4" y2="829.2"/>
</g>

</svg></body></html>
